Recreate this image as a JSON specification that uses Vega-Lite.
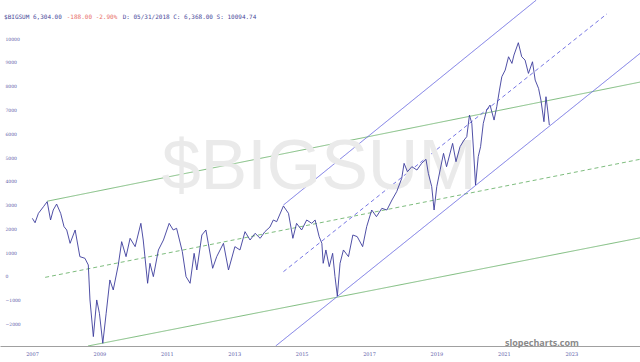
{
  "$schema": "https://vega.github.io/schema/vega-lite/v6.json",
  "autosize": "none",
  "width": 640,
  "height": 346,
  "padding": {"left": 0, "right": 0, "top": 0, "bottom": 16},
  "background": "white",
  "config": {"view": {"stroke": null}},
  "datasets": {
    "price": [
      {"year": 2007.01, "value": 2465}, {"year": 2007.09, "value": 2280}, {"year": 2007.19, "value": 2675},
      {"year": 2007.34, "value": 2955}, {"year": 2007.45, "value": 3165}, {"year": 2007.55, "value": 2395},
      {"year": 2007.63, "value": 2815}, {"year": 2007.73, "value": 3065}, {"year": 2007.85, "value": 2675},
      {"year": 2007.95, "value": 2115}, {"year": 2008.03, "value": 1975}, {"year": 2008.13, "value": 1415},
      {"year": 2008.28, "value": 1975}, {"year": 2008.42, "value": 855}, {"year": 2008.57, "value": 785},
      {"year": 2008.67, "value": 505}, {"year": 2008.72, "value": -965}, {"year": 2008.82, "value": -2505},
      {"year": 2008.92, "value": -965}, {"year": 2009.0, "value": -1525}, {"year": 2009.1, "value": -2785},
      {"year": 2009.2, "value": -1525}, {"year": 2009.31, "value": -125}, {"year": 2009.41, "value": -545},
      {"year": 2009.56, "value": 505}, {"year": 2009.66, "value": 1485}, {"year": 2009.79, "value": 855},
      {"year": 2009.91, "value": 1625}, {"year": 2010.06, "value": 1275}, {"year": 2010.23, "value": 2255},
      {"year": 2010.3, "value": 1555}, {"year": 2010.43, "value": -265}, {"year": 2010.5, "value": 575},
      {"year": 2010.6, "value": 15}, {"year": 2010.75, "value": 1135}, {"year": 2010.9, "value": 1555},
      {"year": 2011.07, "value": 2255}, {"year": 2011.19, "value": 1975}, {"year": 2011.29, "value": 2045},
      {"year": 2011.46, "value": 1065}, {"year": 2011.57, "value": 15}, {"year": 2011.69, "value": -265},
      {"year": 2011.81, "value": 995}, {"year": 2011.89, "value": 295}, {"year": 2012.04, "value": 1765},
      {"year": 2012.16, "value": 1975}, {"year": 2012.23, "value": 1415}, {"year": 2012.36, "value": 365},
      {"year": 2012.48, "value": 855}, {"year": 2012.68, "value": 1415}, {"year": 2012.83, "value": 295},
      {"year": 2013.02, "value": 1275}, {"year": 2013.17, "value": 1135}, {"year": 2013.32, "value": 1905},
      {"year": 2013.47, "value": 1555}, {"year": 2013.62, "value": 1835}, {"year": 2013.77, "value": 1625},
      {"year": 2013.91, "value": 1905}, {"year": 2014.06, "value": 2100}, {"year": 2014.16, "value": 2395},
      {"year": 2014.26, "value": 2325}, {"year": 2014.46, "value": 2985}, {"year": 2014.61, "value": 2675},
      {"year": 2014.74, "value": 1625}, {"year": 2014.85, "value": 2255}, {"year": 2015.0, "value": 1975},
      {"year": 2015.15, "value": 2395}, {"year": 2015.3, "value": 2255}, {"year": 2015.4, "value": 2395},
      {"year": 2015.52, "value": 1695}, {"year": 2015.6, "value": 1415}, {"year": 2015.64, "value": 575},
      {"year": 2015.72, "value": 1135}, {"year": 2015.82, "value": 435}, {"year": 2015.92, "value": 995},
      {"year": 2015.99, "value": 15}, {"year": 2016.06, "value": -800}, {"year": 2016.14, "value": 575},
      {"year": 2016.24, "value": 1135}, {"year": 2016.39, "value": 855}, {"year": 2016.52, "value": 1765},
      {"year": 2016.65, "value": 1695}, {"year": 2016.81, "value": 1275}, {"year": 2016.93, "value": 2115},
      {"year": 2017.08, "value": 2815}, {"year": 2017.22, "value": 2535}, {"year": 2017.38, "value": 2885},
      {"year": 2017.53, "value": 2815}, {"year": 2017.68, "value": 3235}, {"year": 2017.82, "value": 3585},
      {"year": 2017.97, "value": 4145}, {"year": 2018.04, "value": 4775}, {"year": 2018.14, "value": 4425},
      {"year": 2018.27, "value": 4635}, {"year": 2018.42, "value": 4495}, {"year": 2018.56, "value": 4775},
      {"year": 2018.69, "value": 4945}, {"year": 2018.76, "value": 4355}, {"year": 2018.86, "value": 3795},
      {"year": 2018.93, "value": 2815}, {"year": 2019.01, "value": 3795}, {"year": 2019.11, "value": 4500},
      {"year": 2019.21, "value": 5195}, {"year": 2019.3, "value": 4635}, {"year": 2019.48, "value": 5615},
      {"year": 2019.58, "value": 4845}, {"year": 2019.7, "value": 5475}, {"year": 2019.82, "value": 5755},
      {"year": 2019.9, "value": 5895}, {"year": 2019.98, "value": 6805}, {"year": 2020.05, "value": 6455},
      {"year": 2020.1, "value": 5335}, {"year": 2020.16, "value": 3865}, {"year": 2020.24, "value": 5055},
      {"year": 2020.31, "value": 5475}, {"year": 2020.39, "value": 6455}, {"year": 2020.49, "value": 7015},
      {"year": 2020.59, "value": 7225}, {"year": 2020.71, "value": 6595}, {"year": 2020.79, "value": 7155},
      {"year": 2020.87, "value": 7855}, {"year": 2020.94, "value": 8415}, {"year": 2021.04, "value": 8695},
      {"year": 2021.14, "value": 9255}, {"year": 2021.24, "value": 8975}, {"year": 2021.3, "value": 9325},
      {"year": 2021.43, "value": 9845}, {"year": 2021.53, "value": 9255}, {"year": 2021.63, "value": 9115},
      {"year": 2021.73, "value": 8555}, {"year": 2021.85, "value": 9045}, {"year": 2021.93, "value": 8275},
      {"year": 2022.03, "value": 7925}, {"year": 2022.1, "value": 7435}, {"year": 2022.19, "value": 6525},
      {"year": 2022.25, "value": 7575}, {"year": 2022.3, "value": 7015}, {"year": 2022.35, "value": 6385}
    ],
    "trend": [
      {"line": "g_up", "group": "green", "dash": "solid", "year": 2007.45, "value": 3185},
      {"line": "g_up", "group": "green", "dash": "solid", "year": 2025.04, "value": 8190},
      {"line": "g_mid", "group": "green", "dash": "dashed", "year": 2007.39, "value": -15},
      {"line": "g_mid", "group": "green", "dash": "dashed", "year": 2025.04, "value": 4945},
      {"line": "g_low", "group": "green", "dash": "solid", "year": 2008.66, "value": -2900},
      {"line": "g_low", "group": "green", "dash": "solid", "year": 2025.04, "value": 1645},
      {"line": "b_up", "group": "blue", "dash": "solid", "year": 2014.46, "value": 3024},
      {"line": "b_up", "group": "blue", "dash": "solid", "year": 2021.96, "value": 11634},
      {"line": "b_mid", "group": "blue", "dash": "dashed", "year": 2014.46, "value": 223},
      {"line": "b_mid", "group": "blue", "dash": "dashed", "year": 2024.06, "value": 11059},
      {"line": "b_low", "group": "blue", "dash": "solid", "year": 2014.23, "value": -2900},
      {"line": "b_low", "group": "blue", "dash": "solid", "year": 2025.04, "value": 9395}
    ],
    "labels": [
      {"text": "$BIGSUM"}
    ]
  },
  "layer": [
    {
      "data": {"name": "trend"},
      "mark": {"type": "line", "strokeWidth": 0.9, "clip": true},
      "encoding": {
        "x": {
          "field": "year", "type": "quantitative",
          "scale": {"domain": [2006.05, 2025.04], "nice": false, "zero": false},
          "axis": {
            "values": [2007, 2009, 2011, 2013, 2015, 2017, 2019, 2021, 2023],
            "format": "d", "title": null, "grid": false, "ticks": false, "tickSize": 0,
            "labelFontSize": 5, "labelColor": "#5a5aa8", "labelFont": "DejaVu Serif",
            "domainColor": "#a0a0a0", "domainWidth": 1, "labelPadding": 5, "labelOverlap": false
          }
        },
        "y": {
          "field": "value", "type": "quantitative",
          "scale": {"domain": [-2900, 11640], "nice": false, "zero": false},
          "axis": {
            "values": [-2000, -1000, 0, 1000, 2000, 3000, 4000, 5000, 6000, 7000, 8000, 9000, 10000],
            "tickCount": 13, "labelSeparation": 0,
            "format": "d", "title": null, "grid": false, "ticks": false, "tickSize": 0,
            "domain": false, "labelAlign": "left", "labelBaseline": "middle", "labelPadding": -5, "labelOverlap": false,
            "labelFontSize": 4.5, "labelColor": "#5a5aa8", "labelFont": "DejaVu Serif"
          }
        },
        "detail": {"field": "line"},
        "color": {"field": "group", "type": "nominal", "scale": {"domain": ["green", "blue"], "range": ["#6fb46f", "#6666e0"]}, "legend": null},
        "strokeDash": {"field": "dash", "type": "nominal", "scale": {"domain": ["solid", "dashed"], "range": [[1, 0], [4, 3]]}, "legend": null}
      }
    },
    {
      "data": {"name": "labels"},
      "mark": {"type": "text", "fontSize": 70, "font": "Liberation Sans", "color": "#eaeaea", "align": "center", "baseline": "middle"},
      "encoding": {
        "x": {"datum": 2015.52, "type": "quantitative"},
        "y": {"datum": 4578, "type": "quantitative"},
        "text": {"field": "text"}
      }
    },
    {
      "data": {"name": "price"},
      "mark": {"type": "line", "strokeWidth": 0.9, "color": "#3c3c9c", "clip": true},
      "encoding": {
        "x": {
          "field": "year", "type": "quantitative",
          "axis": {
            "values": [2007, 2009, 2011, 2013, 2015, 2017, 2019, 2021, 2023],
            "format": "d", "title": null, "grid": false, "ticks": false, "tickSize": 0,
            "labelFontSize": 5, "labelColor": "#5a5aa8", "labelFont": "DejaVu Serif",
            "domainColor": "#a0a0a0", "domainWidth": 1, "labelPadding": 5, "labelOverlap": false
          }
        },
        "y": {
          "field": "value", "type": "quantitative",
          "axis": {
            "values": [-2000, -1000, 0, 1000, 2000, 3000, 4000, 5000, 6000, 7000, 8000, 9000, 10000],
            "tickCount": 13, "labelSeparation": 0,
            "format": "d", "title": null, "grid": false, "ticks": false, "tickSize": 0,
            "domain": false, "labelAlign": "left", "labelBaseline": "middle", "labelPadding": -5, "labelOverlap": false,
            "labelFontSize": 4.5, "labelColor": "#5a5aa8", "labelFont": "DejaVu Serif"
          }
        }
      }
    },
    {
      "data": {"name": "labels"},
      "mark": {"type": "text", "fontSize": 6, "font": "DejaVu Sans Mono", "color": "#4a4a9a", "align": "left", "baseline": "middle"},
      "encoding": {
        "x": {"datum": 2006.17, "type": "quantitative"},
        "y": {"datum": 10920, "type": "quantitative"},
        "text": {"value": "$BIGSUM 6,304.00"}
      }
    },
    {
      "data": {"name": "labels"},
      "mark": {"type": "text", "fontSize": 6, "font": "DejaVu Sans Mono", "color": "#e8706a", "align": "left", "baseline": "middle"},
      "encoding": {
        "x": {"datum": 2008.03, "type": "quantitative"},
        "y": {"datum": 10920, "type": "quantitative"},
        "text": {"value": "-188.00 -2.90%"}
      }
    },
    {
      "data": {"name": "labels"},
      "mark": {"type": "text", "fontSize": 6, "font": "DejaVu Sans Mono", "color": "#4a4a9a", "align": "left", "baseline": "middle"},
      "encoding": {
        "x": {"datum": 2009.69, "type": "quantitative"},
        "y": {"datum": 10920, "type": "quantitative"},
        "text": {"value": "D: 05/31/2018 C: 6,368.00 S: 10094.74"}
      }
    },
    {
      "data": {"name": "labels"},
      "mark": {"type": "text", "fontSize": 9, "font": "Open Sans", "fontWeight": "bold", "color": "#8a8a8a", "align": "center", "baseline": "middle"},
      "encoding": {
        "x": {"datum": 2022.13, "type": "quantitative"},
        "y": {"datum": -2772, "type": "quantitative"},
        "text": {"value": "slopecharts.com"}
      }
    }
  ]
}
